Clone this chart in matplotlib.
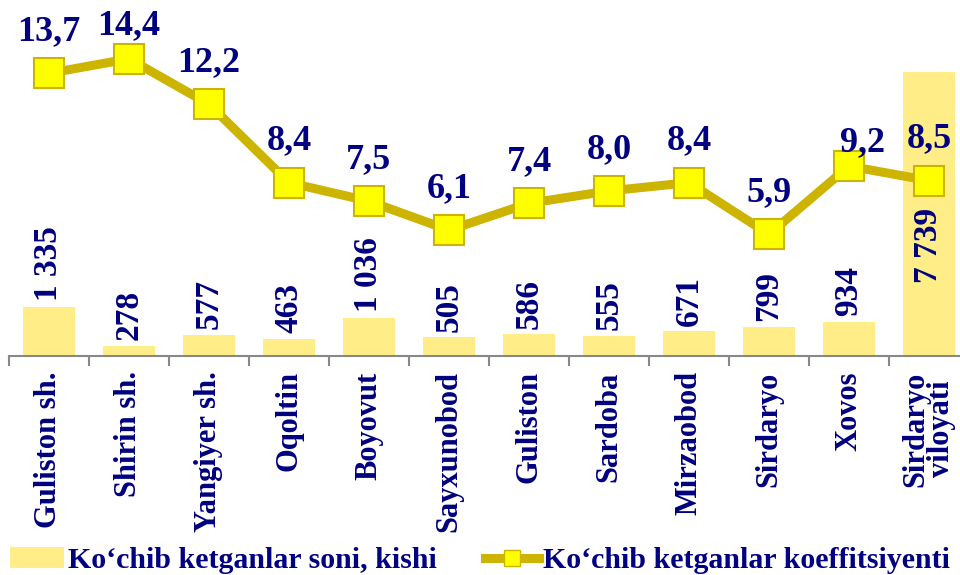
import matplotlib.pyplot as plt
import numpy as np
from matplotlib.patches import Patch
from matplotlib.lines import Line2D

plt.rcParams['font.family'] = ['Liberation Serif', 'DejaVu Serif']
plt.rcParams['font.weight'] = 'bold'

categories = ['Guliston sh.', 'Shirin sh.', 'Yangiyer sh.', 'Oqoltin', 'Boyovut',
              'Sayxunobod', 'Guliston', 'Sardoba', 'Mirzaobod', 'Sirdaryo',
              'Xovos', 'Sirdaryo\nviloyati']
people = [1335, 278, 577, 463, 1036, 505, 586, 555, 671, 799, 934, 7739]
people_labels = ['1 335', '278', '577', '463', '1 036', '505', '586', '555',
                 '671', '799', '934', '7 739']
coef = [13.7, 14.4, 12.2, 8.4, 7.5, 6.1, 7.4, 8.0, 8.4, 5.9, 9.2, 8.5]
coef_labels = ['13,7', '14,4', '12,2', '8,4', '7,5', '6,1', '7,4', '8,0',
               '8,4', '5,9', '9,2', '8,5']

navy = '#000080'
bar_col = '#FFEE88'
line_col = '#CCB400'
marker_face = '#FFFF00'

fig = plt.figure(figsize=(9.6, 5.75), dpi=100)
ax = fig.add_axes([9 / 960, 219 / 575, 960 / 960, 356 / 575])
x = np.arange(len(categories))

ax.bar(x, people, width=0.66, color=bar_col, zorder=1)
ax.set_xlim(-0.5, len(categories) - 0.5)
ax.set_ylim(0, 9700)

for i, (v, lab) in enumerate(zip(people, people_labels)):
    if i == len(people) - 1:
        ax.text(i, 2000, lab, rotation=90, ha='center', va='bottom',
                fontsize=24, color=navy, fontweight='bold', zorder=5)
    else:
        ax.annotate(lab, (i, v), xytext=(0, 4), textcoords='offset points',
                    rotation=90, ha='center', va='bottom', fontsize=24,
                    color=navy, fontweight='bold')

for s in ['top', 'right', 'left']:
    ax.spines[s].set_visible(False)
ax.spines['bottom'].set_color('#888888')
ax.spines['bottom'].set_linewidth(1.5)
ax.set_yticks([])
ax.set_xticks(x)
ax.set_xticklabels(categories, rotation=90, fontsize=22, color=navy,
                   fontweight='bold', va='top', linespacing=0.85)
ax.tick_params(axis='x', which='major', length=0, pad=11)
ax.set_xticks(np.arange(-0.5, len(categories)), minor=True)
ax.tick_params(axis='x', which='minor', length=7, width=1.5, color='#888888')

ax2 = ax.twinx()
ax2.set_ylim(0, 17.25)
ax2.axis('off')
ax2.plot(x, coef, color=line_col, lw=6.5, marker='s', markersize=21,
         markerfacecolor=marker_face, markeredgecolor=line_col,
         markeredgewidth=1.5, zorder=3)

offsets = [(0, 30)] * len(coef)
offsets[1] = (0, 24)
offsets[10] = (10, 17)
for i, (v, lab) in enumerate(zip(coef, coef_labels)):
    ax2.annotate(lab, (i, v), xytext=offsets[i], textcoords='offset points',
                 ha='center', va='center', fontsize=26, color=navy,
                 fontweight='bold')

handles = [Patch(facecolor=bar_col, edgecolor='none'),
           Line2D([0], [0], color=line_col, lw=6.5, marker='s', markersize=12,
                  markerfacecolor=marker_face, markeredgecolor=line_col)]
fig.legend(handles, ['Ko‘chib ketganlar soni, kishi', 'Ko‘chib ketganlar koeffitsiyenti'],
           loc='lower center', bbox_to_anchor=(0.5, -0.045), ncol=2, frameon=False,
           handlelength=1.8, handletextpad=0.15, columnspacing=1.6,
           labelcolor=navy, prop={'weight': 'bold', 'size': 21.5})

fig.savefig('out.png', dpi=100)
